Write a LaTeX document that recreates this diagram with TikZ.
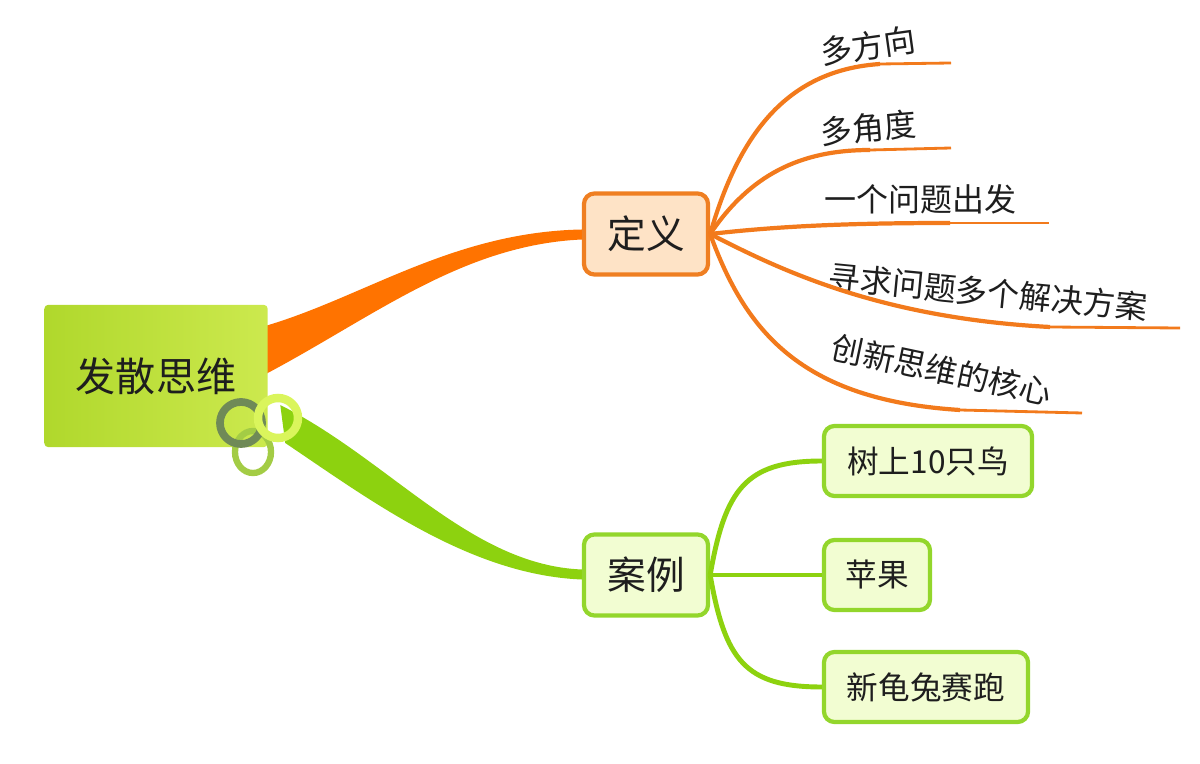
\documentclass[tikz,border=0pt]{standalone}
\usepackage{fontspec}
\setmainfont{Noto Sans CJK SC}
\usetikzlibrary{positioning,backgrounds}
\definecolor{ribbonorange}{HTML}{FF7300}
\definecolor{twigorange}{HTML}{F27A1C}
\definecolor{boxorange}{HTML}{EF7F22}
\definecolor{peach}{HTML}{FEE3C6}
\definecolor{ribbongreen}{HTML}{8DD20F}
\definecolor{boxgreen}{HTML}{93D62C}
\definecolor{palegreen}{HTML}{F2FDD2}
\definecolor{cardleft}{HTML}{B0D82C}
\definecolor{cardright}{HTML}{CCE94E}
\definecolor{ringdark}{HTML}{6F8A57}
\definecolor{ringlight}{HTML}{DAF55C}
\definecolor{ringmid}{HTML}{A3CC45}
\definecolor{ink}{HTML}{1E1E1E}

\begin{document}
\begin{tikzpicture}[x=0.01cm,y=-0.01cm,text=ink,
    card/.style={rounded corners=1pt,inner sep=0pt,minimum width=2.23cm,minimum height=1.42cm,left color=cardleft,right color=cardright,font=\fontsize{11.4}{14}\selectfont},
    defbox/.style={draw=boxorange,fill=peach,line width=1.2pt,rounded corners=3pt,inner sep=0pt,minimum width=1.24cm,minimum height=0.81cm,font=\fontsize{11}{13}\selectfont},
    casebox/.style={defbox,draw=boxgreen,fill=palegreen},
    leafbox/.style={draw=boxgreen,fill=palegreen,line width=1.2pt,rounded corners=3pt,inner sep=0pt,minimum height=0.7cm,font=\fontsize{9}{11}\selectfont},
    idea/.style={inner sep=0pt,font=\fontsize{9.1}{11}\selectfont},
    twig/.style={draw=twigorange,line width=1.2pt},
    twigline/.style={draw=twigorange,line width=0.8pt},
    sprig/.style={draw=ribbongreen,line width=1.4pt},
    hoop/.style={line width=2.2pt}]
  \useasboundingbox (0,0) rectangle (1200,764);
  \path (156,376) node[card] (diverge) {发散思维}
        (646,234) node[defbox] (def) {定义}
        (646,575) node[casebox] (cases) {案例}
        (928,461) node[leafbox,minimum width=2.08cm] (birds) {树上10只鸟}
        (877,575) node[leafbox,minimum width=1.06cm] (apple) {苹果}
        (926,687) node[leafbox,minimum width=2.04cm] (race) {新龟兔赛跑};
  \path (880,64) coordinate (direction) (951,63) coordinate (directionend)
        (870,150) coordinate (angle) (951,148) coordinate (angleend)
        (950,223) coordinate (question) (1049,223) coordinate (questionend)
        (1050,327) coordinate (solution) (1180,328) coordinate (solutionend)
        (960,410) coordinate (core) (1082,413) coordinate (coreend);
  \path (868,46) node[idea,rotate=8] (directionlabel) {多方向}
        (868,128) node[idea,rotate=5] (anglelabel) {多角度}
        (920,199) node[idea] (questionlabel) {一个问题出发}
        (988,292) node[idea,rotate=-5.5] (solutionlabel) {寻求问题多个解决方案}
        (942,370) node[idea,rotate=-12] (corelabel) {创新思维的核心};
  \begin{scope}[on background layer]
    \fill[ribbonorange] ([xshift=-0.1cm,yshift=0.48cm]diverge.east) .. controls (360,300) and (450,232) .. ([yshift=0.045cm]def.west)
      -- ([yshift=-0.055cm]def.west) .. controls (460,245) and (370,320) .. ([xshift=-0.1cm,yshift=-0.02cm]diverge.east) -- cycle;
    \fill[ribbongreen] ([xshift=0.12cm,yshift=-0.29cm]diverge.east) .. controls (390,460) and (470,565) .. ([yshift=0.055cm]cases.west)
      -- ([yshift=-0.045cm]cases.west) .. controls (470,575) and (370,500) .. ([xshift=0.17cm,yshift=-0.67cm]diverge.east) -- cycle;
  \end{scope}
  \draw[twig] (def.east) .. controls (740,130) and (790,70) .. (direction);
  \draw[twigline] (direction) -- (directionend);
  \draw[twig] (def.east) .. controls (750,175) and (800,150) .. (angle);
  \draw[twigline] (angle) -- (angleend);
  \draw[twig] (def.east) .. controls (780,226) and (850,223) .. (question);
  \draw[twigline] (question) -- (questionend);
  \draw[twig] (def.east) .. controls (780,270) and (880,318) .. (solution);
  \draw[twigline] (solution) -- (solutionend);
  \draw[twig] (def.east) .. controls (745,330) and (800,400) .. (core);
  \draw[twigline] (core) -- (coreend);
  \draw[sprig] (cases.east) .. controls (725,490) and (745,461) .. (birds.west);
  \draw[sprig] (cases.east) -- (apple.west);
  \draw[sprig] (cases.east) .. controls (725,660) and (745,687) .. (race.west);
  \draw[hoop,draw=ringmid,line width=1.8pt] (253,452) ellipse [x radius=0.18cm,y radius=0.21cm];
  \draw[hoop,draw=ringdark] (241,423) circle [radius=0.21cm];
  \draw[hoop,draw=ringlight,line width=2.4pt] (278,418) circle [radius=0.2cm];
\end{tikzpicture}
\end{document}
